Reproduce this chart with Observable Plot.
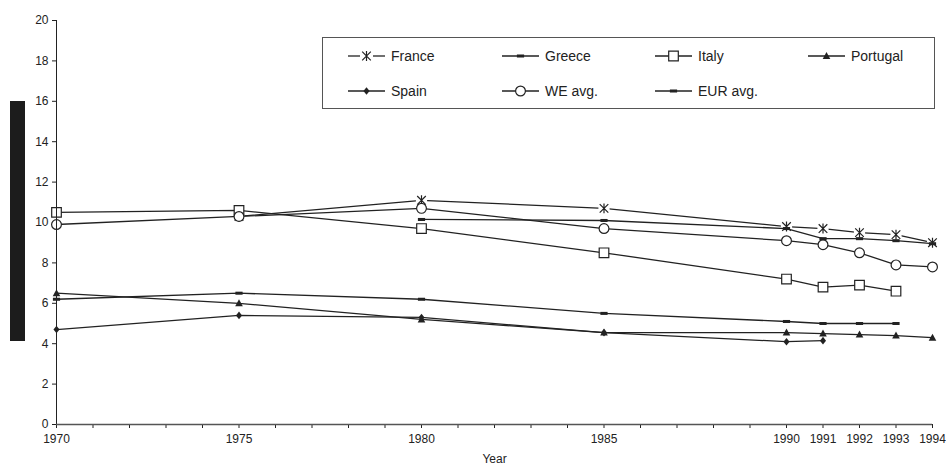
<!DOCTYPE html>
<html>
<head>
<meta charset="utf-8">
<script src="https://cdn.jsdelivr.net/npm/d3@7"></script>
<script src="https://cdn.jsdelivr.net/npm/@observablehq/plot@0.6"></script>
<style>
  html, body { margin: 0; padding: 0; background: #fff; }
  #wrap { position: relative; width: 946px; height: 470px; }
  #bar { position: absolute; left: 10px; top: 101px; width: 15px; height: 240px; background: #1c1c1c; }
</style>
</head>
<body>
<div id="wrap"><div id="bar"></div></div>
<script>
// ---- data ----
const years    = [1970, 1975, 1980, 1985, 1990, 1991, 1992, 1993, 1994];
const france   = [null, 10.3, 11.1, 10.7, 9.8, 9.7, 9.5, 9.4, 9.0];
const greece   = [6.2, 6.5, 6.2, 5.5, 5.1, 5.0, 5.0, 5.0, null];
const italy    = [10.5, 10.6, 9.7, 8.5, 7.2, 6.8, 6.9, 6.6, null];
const portugal = [6.5, 6.0, 5.2, 4.55, 4.55, 4.5, 4.45, 4.4, 4.3];
const spain    = [4.7, 5.4, 5.3, 4.55, 4.1, 4.15, null, null, null];
const weAvg    = [9.9, 10.3, 10.7, 9.7, 9.1, 8.9, 8.5, 7.9, 7.8];
const eurAvg   = [null, null, 10.15, 10.1, 9.7, 9.2, 9.2, 9.1, 8.95];
const seriesNames = ["France", "Greece", "Italy", "Portugal", "Spain", "WE avg.", "EUR avg."];
const yTicks = [0, 2, 4, 6, 8, 10, 12, 14, 16, 18, 20];
const xLabelYears = years;
const xTickYears = d3.range(1970, 1995);

const INK = "#222";

// ---- custom symbols ----
const rOf = size => Math.sqrt(size / Math.PI);
const symStar = {draw(c, size) { const r = rOf(size);
  c.moveTo(-r, -r); c.lineTo(r, r); c.moveTo(r, -r); c.lineTo(-r, r);
  c.moveTo(0, -r * 1.15); c.lineTo(0, r * 1.15); }};
const symBox = {draw(c, size) { const r = rOf(size);
  c.moveTo(-r, -r); c.lineTo(r, -r); c.lineTo(r, r); c.lineTo(-r, r); c.closePath(); }};
const symDash = {draw(c, size) { const r = rOf(size);
  c.moveTo(-r, -r * 0.42); c.lineTo(r, -r * 0.42); c.lineTo(r, r * 0.42); c.lineTo(-r, r * 0.42); c.closePath(); }};
const symTri = {draw(c, size) { const r = rOf(size);
  c.moveTo(0, -r); c.lineTo(r * 0.95, r * 0.75); c.lineTo(-r * 0.95, r * 0.75); c.closePath(); }};
const symDiamond = {draw(c, size) { const r = rOf(size);
  c.moveTo(0, -r); c.lineTo(r * 0.8, 0); c.lineTo(0, r); c.lineTo(-r * 0.8, 0); c.closePath(); }};
const symCircle = {draw(c, size) { const r = rOf(size);
  c.moveTo(r, 0); c.arc(0, 0, r, 0, 2 * Math.PI); c.closePath(); }};

const styles = {
  "France":   {values: france,   symbol: symStar,    r: 4.3, fill: "none",  stroke: INK},
  "Greece":   {values: greece,   symbol: symDash,    r: 3.6, fill: INK,     stroke: "none"},
  "Italy":    {values: italy,    symbol: symBox,     r: 4.8, fill: "white", stroke: INK},
  "Portugal": {values: portugal, symbol: symTri,     r: 4.0, fill: INK,     stroke: "none"},
  "Spain":    {values: spain,    symbol: symDiamond, r: 3.8, fill: INK,     stroke: "none"},
  "WE avg.":  {values: weAvg,    symbol: symCircle,  r: 4.9, fill: "white", stroke: INK},
  "EUR avg.": {values: eurAvg,   symbol: symDash,    r: 3.6, fill: INK,     stroke: "none"}
};

const rows = name => years.map((y, i) => ({year: y, value: styles[name].values[i], series: name}))
                          .filter(d => d.value != null);

const lineMark = name => Plot.line(rows(name), {x: "year", y: "value", stroke: INK, strokeWidth: 1.3});
const dotMark = name => { const s = styles[name];
  return Plot.dot(rows(name), {x: "year", y: "value", symbol: s.symbol, r: s.r, fill: s.fill,
                               stroke: s.stroke, strokeWidth: 1.2}); };

const marks = [
  Plot.axisY({ticks: yTicks, tickSize: 4, tickPadding: 4, tickFormat: d => String(d), label: null, fill: INK}),
  Plot.axisX({ticks: xTickYears, tickSize: 4, tickFormat: () => "", label: null}),
  Plot.axisX({ticks: xLabelYears, tickSize: 0, tickPadding: 10, tickFormat: d => String(d), label: null, fill: INK}),
  Plot.text(["Year"], {frameAnchor: "bottom", dy: 38, fill: INK, fontSize: 12}),
  lineMark("France"),
  Plot.dot(rows("France"), {x: "year", y: "value", symbol: symBox, r: 5.6, fill: "white", stroke: "none"}),
  ...["Greece", "Italy", "Portugal", "Spain", "WE avg.", "EUR avg."].map(lineMark),
  ...seriesNames.map(dotMark),
  Plot.ruleX([1970], {stroke: INK}),
  Plot.ruleY([0], {stroke: "#555", strokeWidth: 1.5})
];

const chart = Plot.plot({
  width: 946, height: 470,
  marginLeft: 56, marginRight: 14, marginTop: 20, marginBottom: 46,
  style: {fontFamily: "'Liberation Sans', Arial, sans-serif", fontSize: "12px", color: INK, background: "white"},
  x: {domain: [1970, 1994]},
  y: {domain: [0, 20]},
  marks
});
document.getElementById("wrap").insertBefore(chart, document.getElementById("bar"));

// ---- legend (drawn into the plot's svg) ----
const svg = d3.select(chart);
const lg = svg.append("g").attr("font-family", "'Liberation Sans', Arial, sans-serif")
  .attr("font-size", 14).attr("fill", INK).attr("text-anchor", "start");
lg.append("rect").attr("x", 322.5).attr("y", 37.5).attr("width", 612).attr("height", 71)
  .attr("fill", "white").attr("stroke", "#555").attr("stroke-width", 1);
const colX = [348, 502, 655, 808];
const rowY = [56, 91];
seriesNames.forEach((name, i) => {
  const x0 = colX[i % 4], y0 = rowY[Math.floor(i / 4)], s = styles[name];
  const g = lg.append("g");
  if (name === "France") {
    g.append("line").attr("x1", x0).attr("x2", x0 + 12).attr("y1", y0).attr("y2", y0).attr("stroke", INK).attr("stroke-width", 1.3);
    g.append("line").attr("x1", x0 + 25).attr("x2", x0 + 37).attr("y1", y0).attr("y2", y0).attr("stroke", INK).attr("stroke-width", 1.3);
  } else {
    g.append("line").attr("x1", x0).attr("x2", x0 + 37).attr("y1", y0).attr("y2", y0).attr("stroke", INK).attr("stroke-width", 1.3);
  }
  const p = d3.path(); s.symbol.draw(p, Math.PI * s.r * s.r);
  g.append("path").attr("d", p.toString()).attr("transform", `translate(${x0 + 18.5},${y0})`)
    .attr("fill", s.fill).attr("stroke", s.stroke).attr("stroke-width", 1.2);
  g.append("text").attr("x", x0 + 43).attr("y", y0).attr("dy", "0.36em")
    .attr("text-anchor", "start").style("text-anchor", "start").text(name);
});
</script>
</body>
</html>
